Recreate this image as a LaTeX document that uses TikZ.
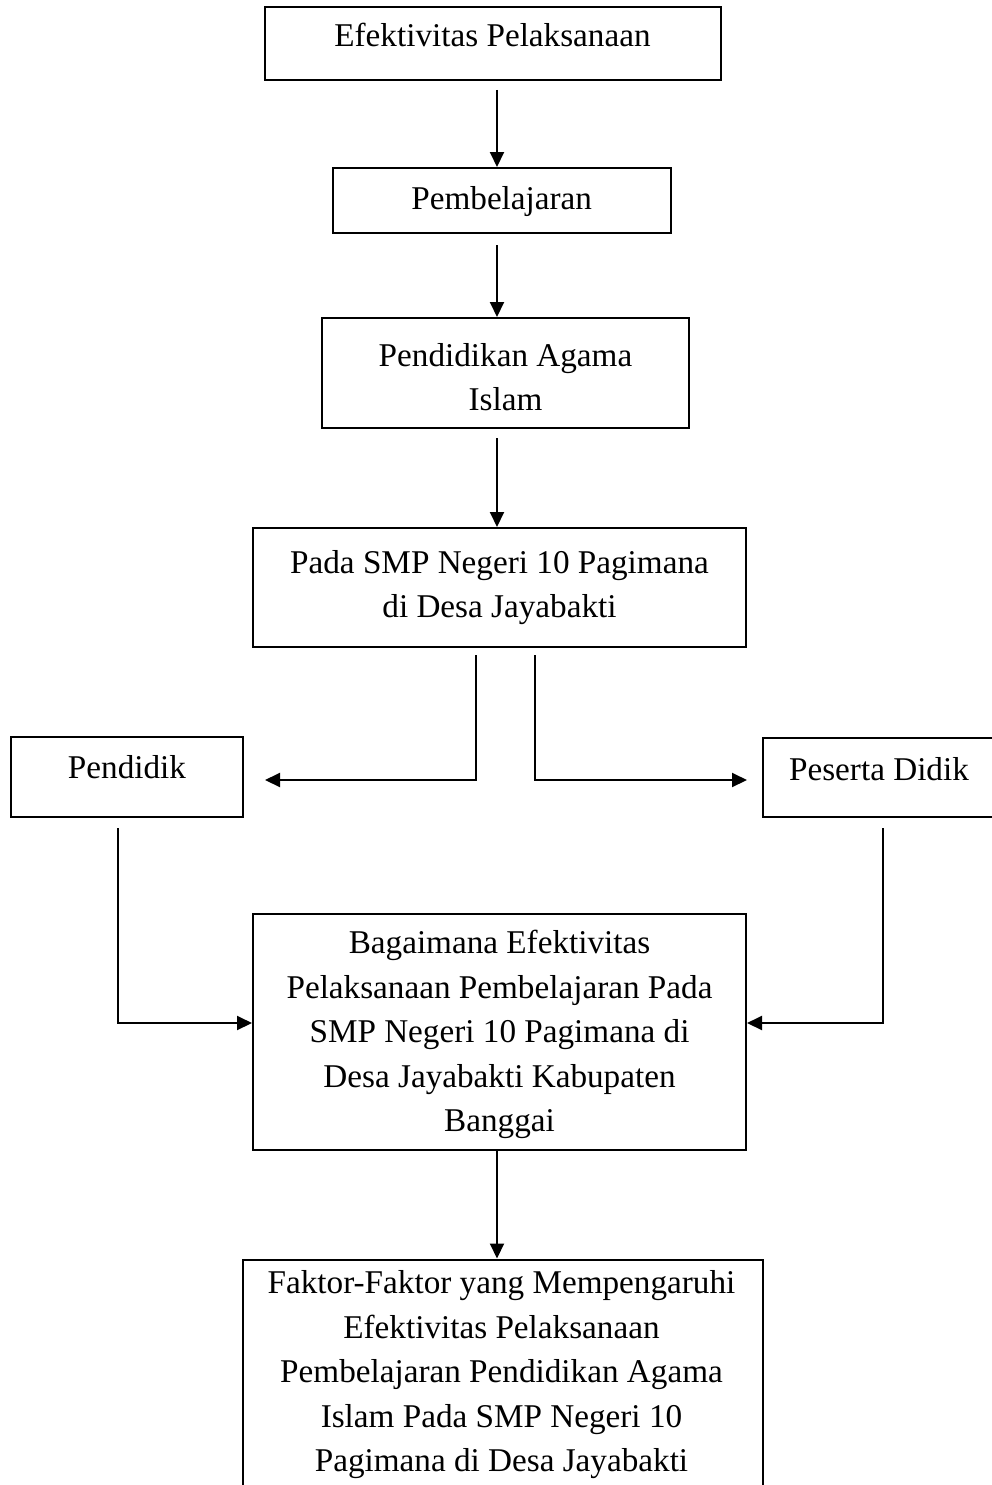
\documentclass[tikz,border=0pt]{standalone}
\usepackage{fontspec}
\setmainfont{Liberation Serif}
\usetikzlibrary{arrows.meta}
\begin{document}
\begin{tikzpicture}[x=1pt,y=-1pt,
  box/.style={draw, line width=2pt, inner sep=0pt, align=center, font=\fontsize{33.2}{44.5}\selectfont},
  txt/.style={inner sep=0pt, align=center, font=\fontsize{33.2}{44.5}\selectfont},
  arr/.style={line width=2pt, -{Triangle[length=15pt,width=14pt]}}]
\useasboundingbox (0,0) rectangle (991,1485);

\node[box, minimum width=456pt, text height=40pt, text depth=33pt] (b1) at (492.5,43.5) {Efektivitas Pelaksanaan};
\node[box, minimum width=338pt, text height=41pt, text depth=24pt] (b2) at (501.7,200.5) {Pembelajaran};
\node[box, minimum width=367pt, minimum height=110pt] (b3) at (505.5,373) {};
\node[txt] (b3t) at ([yshift=-4pt]b3.center) {Pendidikan Agama\\Islam};
\node[box, minimum width=493pt, minimum height=119pt] (b4) at (499.5,587.5) {Pada SMP Negeri 10 Pagimana\\di Desa Jayabakti};
\node[box, minimum width=232pt, text height=41pt, text depth=39pt] (pd) at (127,777) {Pendidik};
\node[box, minimum width=232pt, text height=42pt, text depth=37pt] (ps) at (879,777.5) {Peserta Didik};
\node[box, minimum width=493pt, minimum height=236pt] (b5) at (499.5,1031.5) {};
\node[txt] (b5t) at ([yshift=-3pt]b5.center) {Bagaimana Efektivitas\\Pelaksanaan Pembelajaran Pada\\SMP Negeri 10 Pagimana di\\Desa Jayabakti Kabupaten\\Banggai};
\node[draw, line width=2pt, minimum width=520pt, minimum height=320pt, anchor=north] (b6) at (503,1258.5) {};
\node[txt, anchor=north] (b6t) at ([xshift=-1.5pt,yshift=-12pt]b6.north) {Faktor-Faktor yang Mempengaruhi\\Efektivitas Pelaksanaan\\Pembelajaran Pendidikan Agama\\Islam Pada SMP Negeri 10\\Pagimana di Desa Jayabakti};

\coordinate (s1) at (497,90);
\draw[arr] (s1) -- (s1 |- b2.north);
\coordinate (s2) at (497,245);
\draw[arr] (s2) -- (s2 |- b3.north);
\coordinate (s3) at (497,438);
\draw[arr] (s3) -- (s3 |- b4.north);

\coordinate (l0) at (476,655);
\coordinate (l1) at (476,780);
\coordinate (lt) at (265,780);
\draw[arr] (l0) -- (l1) -- (lt);
\coordinate (r0) at (535,655);
\coordinate (r1) at (535,780);
\coordinate (rt) at (747,780);
\draw[arr] (r0) -- (r1) -- (rt);

\coordinate (p0) at (118,828);
\coordinate (pc) at (118,1023);
\draw[arr] (p0) -- (pc) -- (pc -| b5.west);
\coordinate (q0) at (883,828);
\coordinate (qc) at (883,1023);
\draw[arr] (q0) -- (qc) -- (qc -| b5.east);

\coordinate (s5) at (497,1149);
\draw[arr] (s5) -- (s5 |- b6.north);
\end{tikzpicture}
\end{document}
